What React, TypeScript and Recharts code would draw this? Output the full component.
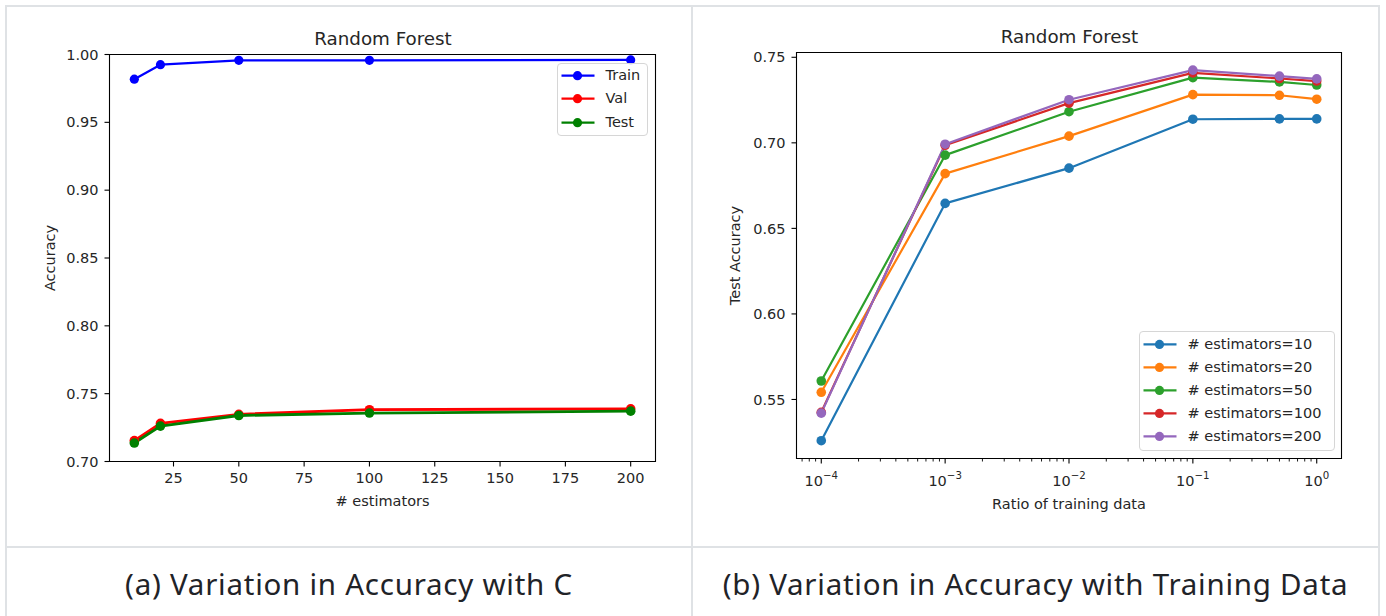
import React from 'react';
import { LineChart, Line, XAxis, YAxis, ReferenceArea, Legend, Label } from 'recharts';

// (a) accuracy against number of trees
const nEstimators = [10, 20, 50, 100, 200];
const trainAcc = [0.9818, 0.9925, 0.9957, 0.9957, 0.996];
const valAcc = [0.7154, 0.7281, 0.7348, 0.7382, 0.7388];
const testAcc = [0.7136, 0.7261, 0.7339, 0.7357, 0.7371];
const estimatorTicks = [25, 50, 75, 100, 125, 150, 175, 200];
const accuracyTicks = [0.7, 0.75, 0.8, 0.85, 0.9, 0.95, 1.0];
const splitNames = ['Train', 'Val', 'Test'];

// (b) test accuracy against share of training data
const ratios = [0.0001, 0.001, 0.01, 0.1, 0.5, 1];
const est10 = [0.5259, 0.6646, 0.6852, 0.7138, 0.714, 0.714];
const est20 = [0.5542, 0.682, 0.7039, 0.7282, 0.7278, 0.7255];
const est50 = [0.5608, 0.6928, 0.7182, 0.7381, 0.7356, 0.7338];
const est100 = [0.5425, 0.6986, 0.7232, 0.7409, 0.7376, 0.7361];
const est200 = [0.542, 0.6992, 0.7252, 0.7425, 0.739, 0.7374];
const estimatorNames = ['# estimators=10', '# estimators=20', '# estimators=50', '# estimators=100', '# estimators=200'];
const ratioMajorTicks = [0.0001, 0.001, 0.01, 0.1, 1];
const ratioExponents = ['\u22124', '\u22123', '\u22122', '\u22121', '0'];
const minorDecades = [0.00001, 0.0001, 0.001, 0.01, 0.1];
const minorSteps = [2, 3, 4, 5, 6, 7, 8, 9];
const testAccuracyTicks = [0.55, 0.6, 0.65, 0.7, 0.75];

const FONT = '"DejaVu Sans", sans-serif';
const TEXT = '#262626';
const TICK_FONT = 14.5;
const TITLE_FONT = 18.3;
const BORDER = '#dfe2e5';

const ratioMin = Math.pow(10, -4.2);
const ratioMax = Math.pow(10, 0.2);
const ratioMinor = minorDecades
  .flatMap((d) => minorSteps.map((s) => s * d))
  .filter((v) => v >= ratioMin && v <= ratioMax);
const ratioTicks = [...ratioMajorTicks, ...ratioMinor].sort((a, b) => a - b);

const estimatorData = nEstimators.map((n, i) => ({
  n,
  train: trainAcc[i],
  val: valAcc[i],
  test: testAcc[i],
}));

const ratioData = ratios.map((r, i) => ({
  ratio: r,
  e10: est10[i],
  e20: est20[i],
  e50: est50[i],
  e100: est100[i],
  e200: est200[i],
}));

const tickStyle = { fill: TEXT, fontSize: TICK_FONT, fontFamily: FONT };

const LogTick = (props: any) => {
  const { x, y, payload } = props;
  const idx = ratioMajorTicks.findIndex(
    (t) => Math.abs(Math.log10(t) - Math.log10(payload.value)) < 1e-6
  );
  if (idx < 0) {
    return <line x1={x} x2={x} y1={y} y2={y + 3} stroke="#000" strokeWidth={0.9} />;
  }
  return (
    <g>
      <line x1={x} x2={x} y1={y} y2={y + 5} stroke="#000" strokeWidth={1.1} />
      <text x={x} y={y + 27.5} textAnchor="middle" fontFamily={FONT} fontSize={TICK_FONT} fill={TEXT}>
        <tspan>10</tspan>
        <tspan dy={-7} fontSize={10.2}>
          {ratioExponents[idx]}
        </tspan>
      </text>
    </g>
  );
};

const MplLegend = (props: any) => {
  const { payload, order, rowHeight, padTop, padBottom, width } = props;
  const rows = [...(payload || [])].sort(
    (a: any, b: any) => order.indexOf(a.value) - order.indexOf(b.value)
  );
  const mid = rowHeight / 2;
  return (
    <div
      style={{
        boxSizing: 'border-box',
        width,
        border: '1px solid #d6d6d6',
        borderRadius: 4,
        background: 'rgba(255,255,255,0.8)',
        paddingTop: padTop,
        paddingBottom: padBottom,
      }}
    >
      {rows.map((r: any) => (
        <div key={r.value} style={{ position: 'relative', height: rowHeight }}>
          <svg width={40} height={rowHeight} style={{ position: 'absolute', left: 0, top: 0 }}>
            <line x1={3.5} x2={36.5} y1={mid} y2={mid} stroke={r.color} strokeWidth={2.2} />
            <circle cx={19.5} cy={mid} r={4.6} fill={r.color} />
          </svg>
          <span
            style={{
              position: 'absolute',
              left: 47.5,
              top: 0,
              lineHeight: `${rowHeight}px`,
              fontFamily: FONT,
              fontSize: TICK_FONT,
              color: TEXT,
              whiteSpace: 'nowrap',
            }}
          >
            {r.value}
          </span>
        </div>
      ))}
    </div>
  );
};

const dotOf = (color: string, r: number) => ({ r, fill: color, stroke: color, strokeWidth: 0 });

const EstimatorChart = () => (
  <LineChart
    width={692}
    height={546}
    data={estimatorData}
    margin={{ top: 54.5, right: 36.5, bottom: 34.5, left: 49.5 }}
  >
    <XAxis
      type="number"
      dataKey="n"
      domain={[0.5, 209.5]}
      allowDataOverflow
      ticks={estimatorTicks}
      interval={0}
      height={50}
      axisLine={false}
      tickLine={{ stroke: '#000', strokeWidth: 1.1 }}
      tickSize={5}
      tickMargin={6}
      tick={tickStyle}
    >
      <Label value="# estimators" position="insideBottom" offset={6} fill={TEXT} fontSize={TICK_FONT} fontFamily={FONT} />
    </XAxis>
    <YAxis
      type="number"
      domain={[0.7, 1.0]}
      allowDataOverflow
      ticks={accuracyTicks}
      interval={0}
      width={60}
      axisLine={false}
      tickLine={{ stroke: '#000', strokeWidth: 1.1 }}
      tickSize={5}
      tickMargin={6}
      tick={tickStyle}
      tickFormatter={(v: number) => v.toFixed(2)}
    >
      <Label
        value="Accuracy"
        angle={-90}
        position="insideLeft"
        offset={0}
        fill={TEXT}
        fontSize={TICK_FONT}
        fontFamily={FONT}
        style={{ textAnchor: 'middle' }}
      />
    </YAxis>
    <ReferenceArea x1={0.5} x2={209.5} y1={0.7} y2={1.0} fill="none" stroke="#000" strokeWidth={1.1} ifOverflow="visible" />
    <Line type="linear" dataKey="train" name="Train" stroke="#0000ff" strokeWidth={2.2} strokeLinejoin="round" dot={dotOf('#0000ff', 4.6)} activeDot={false} isAnimationActive={false} />
    <Line type="linear" dataKey="val" name="Val" stroke="#ff0000" strokeWidth={2.8} strokeLinejoin="round" dot={dotOf('#ff0000', 4.8)} activeDot={false} isAnimationActive={false} />
    <Line type="linear" dataKey="test" name="Test" stroke="#008000" strokeWidth={2.8} strokeLinejoin="round" dot={dotOf('#008000', 4.8)} activeDot={false} isAnimationActive={false} />
    <Legend
      layout="vertical"
      align="center"
      verticalAlign="middle"
      wrapperStyle={{ left: 557, top: 63, width: 91 }}
      content={(p: any) => (
        <MplLegend {...p} order={splitNames} rowHeight={23.4} padTop={0} padBottom={1} width={91} />
      )}
    />
  </LineChart>
);

const seriesColors = ['#1f77b4', '#ff7f0e', '#2ca02c', '#d62728', '#9467bd'];
const seriesKeys = ['e10', 'e20', 'e50', 'e100', 'e200'];

const RatioChart = () => (
  <LineChart
    width={686}
    height={546}
    data={ratioData}
    margin={{ top: 52.5, right: 36.5, bottom: 35.5, left: 44.5 }}
  >
    <XAxis
      type="number"
      dataKey="ratio"
      scale="log"
      domain={[ratioMin, ratioMax]}
      allowDataOverflow
      ticks={ratioTicks}
      interval={0}
      height={52}
      axisLine={false}
      tickLine={false}
      tickSize={0}
      tickMargin={0}
      tick={<LogTick />}
    >
      <Label value="Ratio of training data" position="insideBottom" offset={2} fill={TEXT} fontSize={TICK_FONT} fontFamily={FONT} />
    </XAxis>
    <YAxis
      type="number"
      domain={[0.5155, 0.7528]}
      allowDataOverflow
      ticks={testAccuracyTicks}
      interval={0}
      width={60}
      axisLine={false}
      tickLine={{ stroke: '#000', strokeWidth: 1.1 }}
      tickSize={5}
      tickMargin={6}
      tick={tickStyle}
      tickFormatter={(v: number) => v.toFixed(2)}
    >
      <Label
        value="Test Accuracy"
        angle={-90}
        position="insideLeft"
        offset={-2}
        fill={TEXT}
        fontSize={TICK_FONT}
        fontFamily={FONT}
        style={{ textAnchor: 'middle' }}
      />
    </YAxis>
    <ReferenceArea x1={ratioMin} x2={ratioMax} y1={0.5155} y2={0.7528} fill="none" stroke="#000" strokeWidth={1.1} ifOverflow="visible" />
    {seriesKeys.map((k, i) => (
      <Line
        key={k}
        type="linear"
        dataKey={k}
        name={estimatorNames[i]}
        stroke={seriesColors[i]}
        strokeWidth={2.2}
        strokeLinejoin="round"
        dot={dotOf(seriesColors[i], 4.8)}
        activeDot={false}
        isAnimationActive={false}
      />
    ))}
    <Legend
      layout="vertical"
      align="center"
      verticalAlign="middle"
      wrapperStyle={{ left: 447, top: 331, width: 196 }}
      content={(p: any) => (
        <MplLegend {...p} order={estimatorNames} rowHeight={22.9} padTop={1} padBottom={2.5} width={196} />
      )}
    />
  </LineChart>
);

const line = (left: number, top: number, width: number, height: number) => (
  <div style={{ position: 'absolute', left, top, width, height, background: BORDER }} />
);

const titleStyle = (left: number, width: number, top: number): React.CSSProperties => ({
  position: 'absolute',
  left,
  top,
  width,
  textAlign: 'center',
  fontFamily: FONT,
  fontSize: TITLE_FONT,
  lineHeight: '20px',
  color: TEXT,
  whiteSpace: 'nowrap',
});

const captionStyle = (left: number, width: number): React.CSSProperties => ({
  position: 'absolute',
  left,
  top: 564,
  width,
  textAlign: 'center',
  fontFamily: '"Noto Sans", sans-serif',
  fontSize: 29.5,
  letterSpacing: 0.75,
  lineHeight: '40px',
  color: '#1f2328',
  whiteSpace: 'nowrap',
});

export default function App() {
  return (
    <div style={{ position: 'absolute', left: 0, top: 0, width: 1386, height: 616, background: '#fff', overflow: 'hidden' }}>
      <div style={{ position: 'absolute', left: 0, top: 0 }}>
        <EstimatorChart />
      </div>
      <div style={{ position: 'absolute', left: 692, top: 0 }}>
        <RatioChart />
      </div>
      <div style={titleStyle(110, 546, 28.9)}>Random Forest</div>
      <div style={titleStyle(797, 545, 26.5)}>Random Forest</div>
      <div style={captionStyle(7, 684)}>(a) Variation in Accuracy with C</div>
      <div style={captionStyle(693, 685)}>(b) Variation in Accuracy with Training Data</div>
      {line(5, 5, 1375, 2)}
      {line(5, 546, 1375, 2)}
      {line(5, 5, 2, 611)}
      {line(691, 5, 2, 611)}
      {line(1378, 5, 2, 611)}
    </div>
  );
}
